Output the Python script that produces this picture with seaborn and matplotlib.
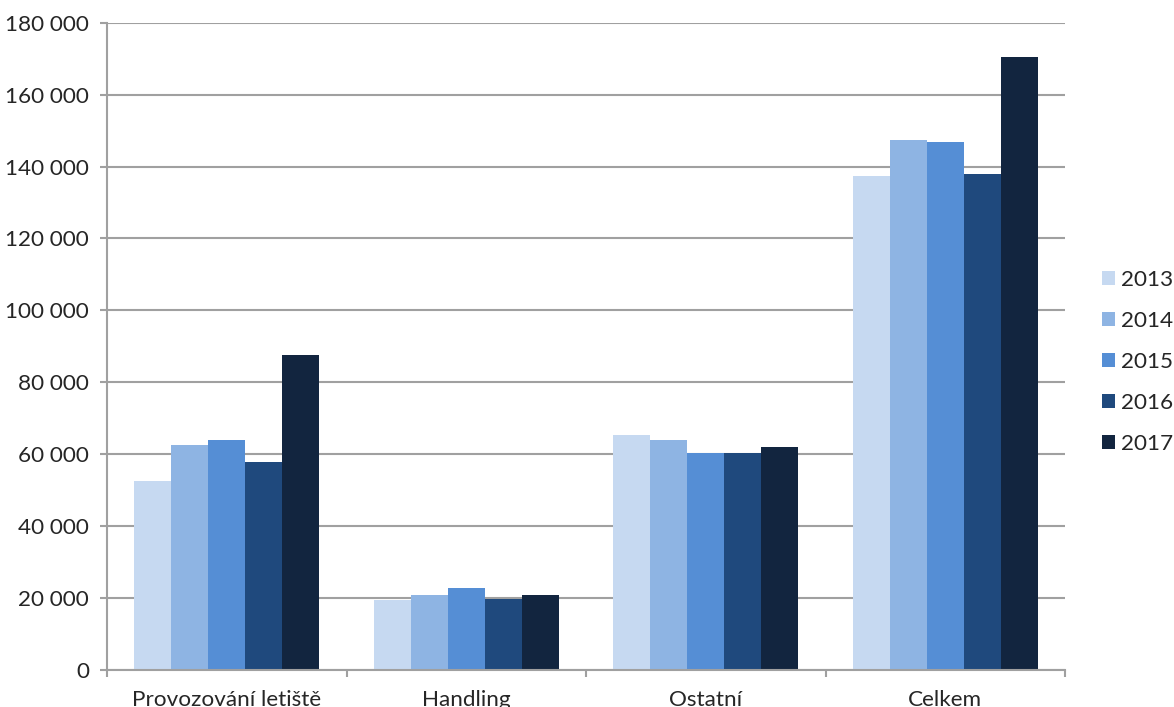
import matplotlib
matplotlib.use("Agg")
import matplotlib.pyplot as plt
from matplotlib.ticker import FuncFormatter, MultipleLocator, FixedLocator
import seaborn as sns
import pandas as pd

categories = ["Provozování letiště", "Handling", "Ostatní", "Celkem"]
years = ["2013", "2014", "2015", "2016", "2017"]
v2013 = [52500, 19300, 65300, 137500]
v2014 = [62500, 20700, 63900, 147500]
v2015 = [63800, 22700, 60200, 147000]
v2016 = [57700, 19500, 60200, 137900]
v2017 = [87500, 20800, 61900, 170600]
colors = ["#C6D9F1", "#8EB4E3", "#558ED5", "#1F497D", "#12253F"]

series = [v2013, v2014, v2015, v2016, v2017]
rows = []
for y, vals in zip(years, series):
    for c, v in zip(categories, vals):
        rows.append({"Kategorie": c, "Rok": y, "Hodnota": v})
df = pd.DataFrame(rows)

sns.set_style("white")
plt.rcParams["font.family"] = ["Lato", "DejaVu Sans"]
FS = 16.2
GRID = "#A0A0A0"

fig = plt.figure(figsize=(11.74, 7.07), dpi=100)
ax = fig.add_axes([107/1174, (707-669.5)/707, 958/1174, 646.5/707])

sns.barplot(data=df, x="Kategorie", y="Hodnota", hue="Rok", order=categories,
            hue_order=years, palette=colors, saturation=1, width=0.773,
            linewidth=0, ax=ax, legend=True)

ax.set_xlim(-0.5, 3.5)
ax.set_ylim(0, 180000)
ax.yaxis.set_major_locator(MultipleLocator(20000))
ax.yaxis.set_major_formatter(FuncFormatter(lambda v, p: f"{int(v):,}".replace(",", " ")))
ax.set_axisbelow(True)
ax.grid(axis="y", color=GRID, linewidth=1.5)
ax.grid(axis="x", visible=False)
for s in ["top", "right"]:
    ax.spines[s].set_visible(False)
for s in ["left", "bottom"]:
    ax.spines[s].set_color(GRID)
    ax.spines[s].set_linewidth(1.5)
ax.set_xlabel("")
ax.set_ylabel("")
ax.tick_params(axis="y", which="major", length=5, width=1.5, color=GRID,
               labelsize=FS, pad=8, left=True)
ax.tick_params(axis="x", which="major", length=0, labelsize=FS, pad=15)
ax.xaxis.set_minor_locator(FixedLocator([-0.5, 0.5, 1.5, 2.5, 3.5]))
ax.tick_params(axis="x", which="minor", length=5, width=1.5, color=GRID, bottom=True)
ax.spines["bottom"].set_zorder(3)

handles, labels = ax.get_legend_handles_labels()
ax.legend(handles, labels, loc="center left",
          bbox_to_anchor=(1102/1174, (707-361.7)/707), bbox_transform=fig.transFigure,
          frameon=False, fontsize=FS, handlelength=0.58, handleheight=0.58,
          handletextpad=0.25, labelspacing=0.93, borderpad=0, borderaxespad=0)

fig.savefig("out.png", dpi=100)
